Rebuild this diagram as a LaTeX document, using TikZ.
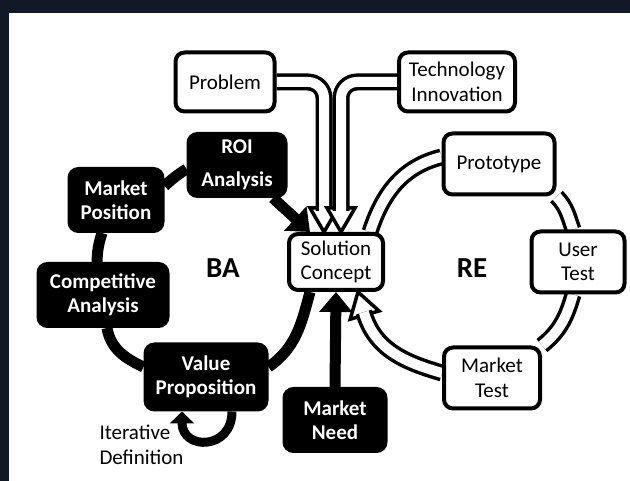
\documentclass[tikz,border=0pt]{standalone}
\usepackage{fontspec}
\setmainfont{Carlito}
\usetikzlibrary{arrows.meta, backgrounds}
\definecolor{fundal}{RGB}{17,24,39}

\begin{document}
\begin{tikzpicture}[x=1pt, y=1pt,
    cutie/.style={draw=black, line width=4pt, rounded corners=9pt, fill=white,
      align=center, inner sep=0pt, font=\fontsize{21}{24.5}\selectfont},
    neagra/.style={cutie, fill=black, text=white,
      font=\fontsize{21}{24.5}\selectfont\bfseries},
    linieba/.style={line width=11pt, black},
    sagba/.style={linieba, -{Triangle[length=20pt, width=32pt]}},
    canal/.style={draw=black, line width=3.5pt, double=white, double distance=10pt},
    varfgol/.style={draw=black, line width=3.5pt, fill=white, line join=miter}]
    % cadru: banda inchisa sus si in stanga, restul alb
    \useasboundingbox (0,0) rectangle (630,481);
    \begin{scope}[on background layer]
      \fill[fundal] (0,0) rectangle (630,481);
      \fill[white]  (9,0) rectangle (630,468);
    \end{scope}

    % ===== sus: intrari =====
    \node[cutie, minimum width=99pt,  minimum height=59pt] (prob) at (225,399) {Problem};
    \node[cutie, minimum width=116pt, minimum height=59pt] (tech) at (457,399) {Technology\\Innovation};

    % ===== centru =====
    \node[cutie, minimum width=94pt, minimum height=56pt] (sol) at (336,219) {Solution\\Concept};

    % ===== ZONA BA (cutii negre) =====
    \node[font=\fontsize{29}{31}\selectfont\bfseries] (ba) at (223,213) {BA};
    \node[neagra, minimum width=97pt,  minimum height=62pt] (roi)  at (237,316) {ROI\\[8pt]Analysis};
    \node[neagra, minimum width=93pt,  minimum height=62pt] (mpos) at (116,281) {Market\\Position};
    \node[neagra, minimum width=129pt, minimum height=62pt] (comp) at (103,186) {Competitive\\Analysis};
    \node[neagra, minimum width=121pt, minimum height=65pt] (vp)   at (206,104) {Value\\Proposition};
    \node[neagra, minimum width=101pt, minimum height=62pt] (need) at (335,61)  {Market\\Need};
    \node[font=\fontsize{21}{24.5}\selectfont, align=left, anchor=west] (iter) at (96,36)
      {Iterative\\Definition};

    % ===== ZONA RE (cutii albe) =====
    \node[font=\fontsize{29}{31}\selectfont\bfseries] (re) at (472,213) {RE};
    \node[cutie, minimum width=111pt, minimum height=61pt] (proto) at (499,317) {Prototype};
    \node[cutie, minimum width=93pt,  minimum height=61pt] (user)  at (578,219) {User\\Test};
    \node[cutie, minimum width=96pt,  minimum height=61pt] (mtest) at (492,103) {Market\\Test};

    % varfurile sagetilor goale
    \coordinate (pvarf) at ([xshift=-12pt]sol.north);
    \coordinate (tvarf) at ([xshift=5pt]sol.north);
    \coordinate (rvarf) at ([xshift=22pt]sol.south);

    \begin{scope}[on background layer]
      % inelul BA
      \draw[linieba] ([yshift=14pt]mpos.east) to[bend left=5] ([yshift=-4pt]roi.west);
      \draw[linieba] ([xshift=-14pt]mpos.south) to[bend right=8] ([xshift=-6pt]comp.north);
      \draw[linieba] ([xshift=4pt]comp.south) to[out=-80, in=155] ([yshift=10pt]vp.west);
      \draw[linieba] ([yshift=10pt]vp.east) to[out=35, in=-105] ([xshift=-26pt]sol.south);
      \draw[sagba] (roi) -- ([xshift=-26pt]sol.north);
      \draw[sagba] (need.north) -- (sol.south);
      % bucla de iteratie sub Value Proposition
      \draw[line width=9pt, -{Triangle[length=12pt, width=24pt]}]
        ([xshift=26pt]vp.south) to[out=-90, in=-90, looseness=2] ([xshift=-24pt]vp.south);

      % intrari goale (Problem, Technology): intai varful, apoi canalul peste el
      \draw[varfgol] (pvarf) -- ([shift={(-14pt,24pt)}]pvarf) -- ([shift={(14pt,24pt)}]pvarf) -- cycle;
      \draw[canal, rounded corners=16pt] (prob.east) -| ([yshift=21pt]pvarf);
      \draw[varfgol] (tvarf) -- ([shift={(-14pt,24pt)}]tvarf) -- ([shift={(14pt,24pt)}]tvarf) -- cycle;
      \draw[canal, rounded corners=16pt] (tech.west) -| ([yshift=21pt]tvarf);

      % inelul RE
      \draw[canal] ([xshift=-15pt]sol.north east) to[out=72, in=194] ([yshift=7pt]proto.west);
      \draw[canal] (proto.south east) to[out=-46, in=109] ([xshift=-5pt]user.north);
      \draw[canal] ([xshift=-5pt]user.south) to[out=-106, in=39] (mtest.north east);
      \draw[varfgol] (rvarf) -- ([shift={(-74:24pt)}, shift={(16:15pt)}]rvarf)
        -- ([shift={(-74:24pt)}, shift={(196:15pt)}]rvarf) -- cycle;
      \draw[canal] ([yshift=5pt]mtest.west) to[out=164, in=-74] ([shift={(-74:21pt)}]rvarf);
    \end{scope}
\end{tikzpicture}
\end{document}
